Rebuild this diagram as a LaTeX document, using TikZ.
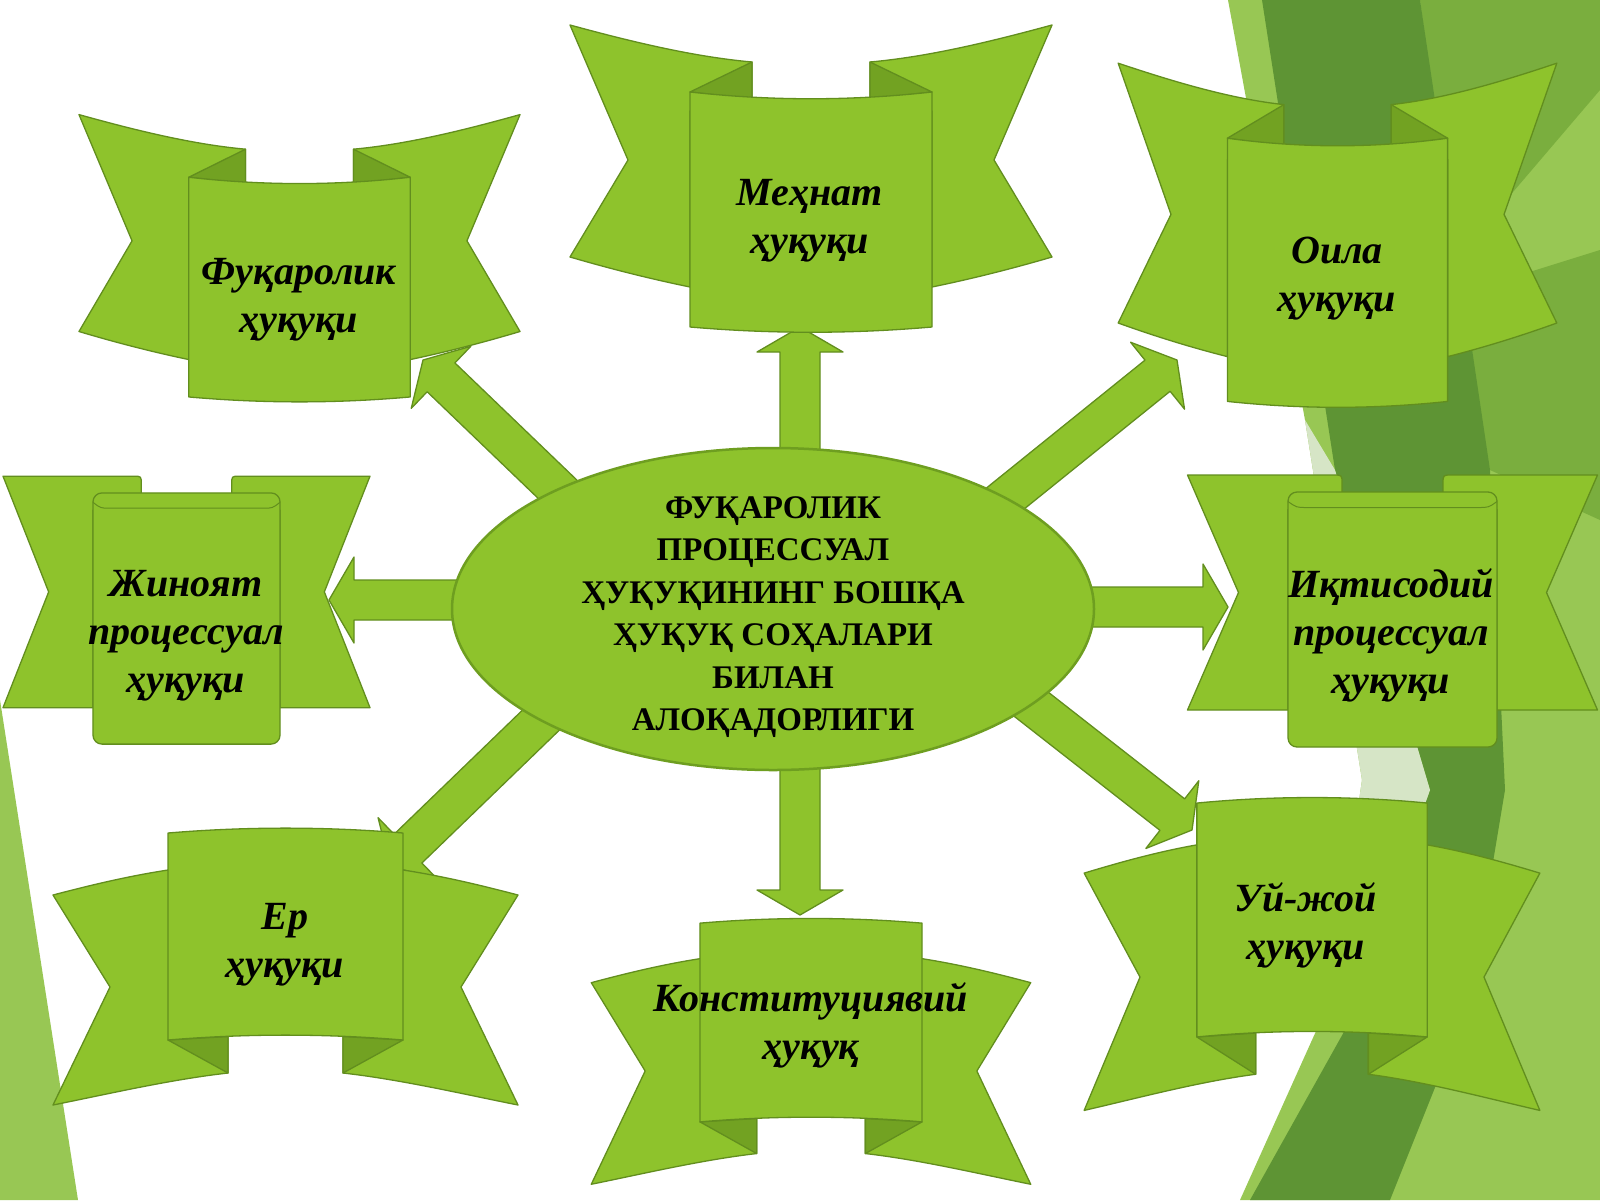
\documentclass[tikz,border=0pt]{standalone}
\usepackage{fontspec}
\setmainfont{Liberation Serif}
\usepackage{tikz}
\usetikzlibrary{calc,shapes.geometric}

\definecolor{ribgreen}{RGB}{142,195,44}
\definecolor{ribline}{RGB}{98,142,30}
\definecolor{ribfold}{RGB}{114,162,34}
\definecolor{ellline}{RGB}{110,158,32}
\definecolor{bglight}{RGB}{152,199,84}
\definecolor{bgmid}{RGB}{122,174,62}
\definecolor{bgdark}{RGB}{94,148,52}
\definecolor{bgpale}{RGB}{214,229,198}

\begin{document}
\begin{tikzpicture}
[x=1pt,y=-1pt,line join=round,
 wing/.style={fill=ribgreen,draw=ribline,line width=1.3pt},
 fold/.style={fill=ribfold,draw=ribline,line width=1.3pt},
 panel/.style={fill=ribgreen,draw=ribline,line width=1.3pt},
 barrow/.style={fill=ribgreen,draw=ribline,line width=1.3pt,
   to path={let \p1=($(\tikztotarget)-(\tikztostart)$),\n1={atan2(\y1,\x1)} in
   ($(\tikztostart)+(\n1+90:20pt)$) -- ($(\tikztotarget)+(\n1+180:25pt)+(\n1+90:20pt)$)
   -- ($(\tikztotarget)+(\n1+180:25pt)+(\n1+90:43pt)$) -- (\tikztotarget)
   -- ($(\tikztotarget)+(\n1+180:25pt)+(\n1-90:43pt)$)
   -- ($(\tikztotarget)+(\n1+180:25pt)+(\n1-90:20pt)$)
   -- ($(\tikztostart)+(\n1-90:20pt)$) -- cycle}},
 ribbonca/.pic={
   \filldraw[wing] (-241,-186) .. controls (-175,-168) and (-115,-154) .. (-59,-149) -- (-59,-100) -- (-121,-100)
     -- (-121,76) .. controls (-160,68) and (-200,58) .. (-241,46) -- (-183,-51) -- cycle;
   \filldraw[wing] (241,-186) .. controls (175,-168) and (115,-154) .. (59,-149) -- (59,-100) -- (121,-100)
     -- (121,76) .. controls (160,68) and (200,58) .. (241,46) -- (183,-51) -- cycle;
   \filldraw[fold] (-59,-149) -- (-121,-119) -- (-59,-112) -- cycle;
   \filldraw[fold] (59,-149) -- (121,-119) -- (59,-112) -- cycle;
   \filldraw[panel] (-121,-119) .. controls (-40,-110) and (40,-110) .. (121,-119) -- (121,116)
     .. controls (40,123) and (-40,123) .. (-121,116) -- cycle;},
 ribboncb/.pic={
   \filldraw[wing] (-57.5,-60) -- (-117.5,-66.5) .. controls (-160,-60) and (-200,-50) .. (-232.5,-41.5)
     -- (-175.5,50.5) -- (-232.5,168.5) .. controls (-175,157) and (-115,143) .. (-57.5,136.5) -- cycle;
   \filldraw[wing] (57.5,-60) -- (117.5,-66.5) .. controls (160,-60) and (200,-50) .. (232.5,-41.5)
     -- (175.5,50.5) -- (232.5,168.5) .. controls (175,157) and (115,143) .. (57.5,136.5) -- cycle;
   \filldraw[fold] (-117.5,103.5) -- (-57.5,136.5) -- (-57.5,100) -- cycle;
   \filldraw[fold] (117.5,103.5) -- (57.5,136.5) -- (57.5,100) -- cycle;
   \filldraw[panel] (-117.5,-103.5) .. controls (-40,-110) and (40,-110) .. (117.5,-103.5) -- (117.5,103.5)
     .. controls (40,97) and (-40,97) .. (-117.5,103.5) -- cycle;},
 ribbonfa/.pic={
   \filldraw[wing] (-205,-144.5) -- (-59,-144.5) .. controls (-50.5,-144.5) .. (-50.5,-136) -- (-50.5,-110)
     -- (-104.5,-110) -- (-104.5,90.5) -- (-205,90.5) -- (-154,-27) -- cycle;
   \filldraw[wing] (205,-144.5) -- (59,-144.5) .. controls (50.5,-144.5) .. (50.5,-136) -- (50.5,-110)
     -- (104.5,-110) -- (104.5,90.5) -- (205,90.5) -- (154,-27) -- cycle;
   \filldraw[panel,rounded corners=9pt] (-104.5,-127.5) rectangle (104.5,127.5);
   \draw[ribline,line width=1pt] (-104.5,-118) .. controls (-96,-112) .. (-86,-112) -- (86,-112)
     .. controls (96,-112) .. (104.5,-118);}]
\tikzstyle{markaz}=[ellipse,fill=ribgreen,draw=ellline,line width=2.5pt,
  minimum width=642pt,minimum height=322pt,inner sep=0pt]
\tikzstyle{markazmatn}=[font=\fontsize{33}{42.4}\selectfont\bfseries,align=center,inner sep=0pt]
\tikzstyle{ribtext}=[font=\fontsize{40}{48}\selectfont\bfseries\itshape,align=center,inner sep=0pt]

\useasboundingbox (0,0) rectangle (1600,1200);
\fill[white] (0,0) rectangle (1600,1200);
\fill[bglight] (1228,0) -- (1600,0) -- (1600,1200) -- (1240,1200) -- (1330,1000) -- (1362,780) -- (1305,420) -- cycle;
\fill[bgmid] (1420,0) -- (1600,0) -- (1600,90) -- (1455,260) -- cycle;
\fill[bgmid] (1440,300) -- (1600,250) -- (1600,520) -- (1490,470) -- cycle;
\fill[bgdark] (1262,0) -- (1420,0) -- (1490,470) -- (1505,790) -- (1470,1000) -- (1390,1200) -- (1250,1200)
  -- (1345,1030) -- (1430,790) -- (1335,470) -- cycle;
\fill[bgpale] (1305,420) -- (1335,470) -- (1430,790) -- (1345,1030) -- (1330,1000) -- (1362,780) -- cycle;
\fill[bglight] (0,700) -- (78,1200) -- (0,1200) -- cycle;

\coordinate (s1) at (800,500);  \coordinate (t1) at (800,327);
\coordinate (s2) at (800,720);  \coordinate (t2) at (800,915);
\coordinate (s3) at (500,600);  \coordinate (t3) at (329,600);
\coordinate (s4) at (1040,607); \coordinate (t4) at (1228,607);
\coordinate (s5) at (600,530);  \coordinate (t5) at (423,360);
\coordinate (s6) at (960,535);  \coordinate (t6) at (1177,360);
\coordinate (s7) at (570,692);  \coordinate (t7) at (390,866);
\coordinate (s8) at (990,672);  \coordinate (t8) at (1192,830);

\path (s1) edge[barrow] (t1)
      (s2) edge[barrow] (t2)
      (s3) edge[barrow] (t3)
      (s4) edge[barrow] (t4)
      (s5) edge[barrow] (t5)
      (s6) edge[barrow] (t6)
      (s7) edge[barrow] (t7)
      (s8) edge[barrow] (t8);

\node[markaz] (markaz) at (773,609) {};
\node[markazmatn] (markazmatn) at (773,617) {ФУҚАРОЛИК\\ПРОЦЕССУАЛ\\ҲУҚУҚИНИНГ БОШҚА\\ҲУҚУҚ СОҲАЛАРИ\\БИЛАН\\АЛОҚАДОРЛИГИ};

\pic[xscale=.915,yscale=.935] at (299.5,288.5) {ribbonca};
\pic at (811,211) {ribbonca};
\pic[xscale=.91,yscale=1.12] at (1337.5,271.5) {ribbonca};
\pic[xscale=.895,yscale=.985] at (186.5,618.5) {ribbonfa};
\pic at (1392.5,619.5) {ribbonfa};
\pic at (285.5,936.5) {ribboncb};
\pic[xscale=.945,yscale=.96] at (811,1022.5) {ribboncb};
\pic[xscale=.98,yscale=1.13] at (1312,920) {ribboncb};

\node[ribtext] (fuqarolik) at (299,300) {Фуқаролик\\ҳуқуқи};
\node[ribtext] (mehnat) at (810,221) {Меҳнат\\ҳуқуқи};
\node[ribtext] (oila) at (1337,279) {Оила\\ҳуқуқи};
\node[ribtext] (jinoyat) at (186,636) {Жиноят\\процессуал\\ҳуқуқи};
\node[ribtext] (iqtisodiy) at (1391,635) {Иқтисодий\\процессуал\\ҳуқуқи};
\node[ribtext] (yer) at (285,945) {Ер\\ҳуқуқи};
\node[ribtext] (konst) at (811,1025) {Конституциявий\\ҳуқуқ};
\node[ribtext] (uyjoy) at (1306,925) {Уй-жой\\ҳуқуқи};
\end{tikzpicture}
\end{document}
